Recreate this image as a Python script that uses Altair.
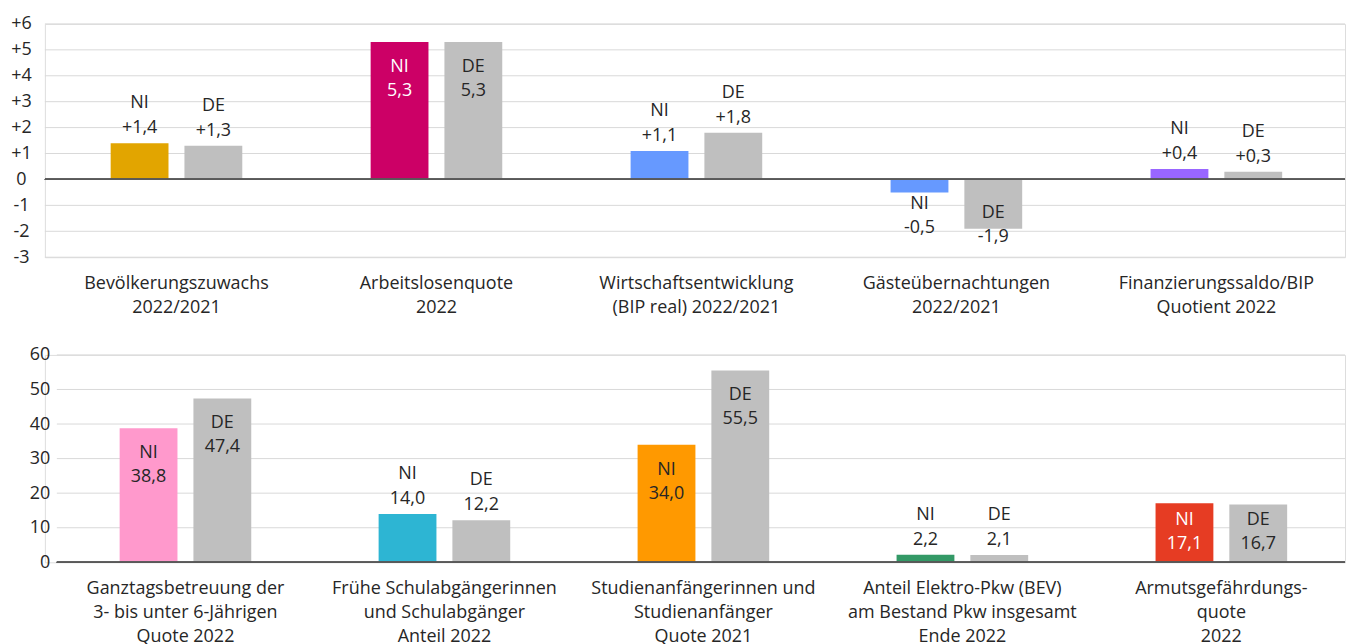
import altair as alt
import pandas as pd

# ---------------- data ----------------
top_categories = [
    "Bevölkerungszuwachs|2022/2021",
    "Arbeitslosenquote|2022",
    "Wirtschaftsentwicklung|(BIP real) 2022/2021",
    "Gästeübernachtungen|2022/2021",
    "Finanzierungssaldo/BIP|Quotient 2022",
]
top_ni = [1.4, 5.3, 1.1, -0.5, 0.4]
top_de = [1.3, 5.3, 1.8, -1.9, 0.3]
top_signed = [True, False, True, True, True]
top_ticks = [-3, -2, -1, 0, 1, 2, 3, 4, 5, 6]
top_ni_colors = ["#E2A500", "#CC0066", "#6699FF", "#6699FF", "#9966FF"]
top_ni_label_colors = ["#262626", "#FFFFFF", "#262626", "#262626", "#262626"]

bottom_categories = [
    "Ganztagsbetreuung der|3- bis unter 6-Jährigen|Quote 2022",
    "Frühe Schulabgängerinnen|und Schulabgänger|Anteil 2022",
    "Studienanfängerinnen und|Studienanfänger|Quote 2021",
    "Anteil Elektro-Pkw (BEV)|am Bestand Pkw insgesamt|Ende 2022",
    "Armutsgefährdungs-|quote|2022",
]
bottom_ni = [38.8, 14.0, 34.0, 2.2, 17.1]
bottom_de = [47.4, 12.2, 55.5, 2.1, 16.7]
bottom_signed = [False, False, False, False, False]
bottom_ticks = [0, 10, 20, 30, 40, 50, 60]
bottom_ni_colors = ["#FF99CC", "#2DB5D3", "#FF9900", "#339966", "#E63C23"]
bottom_ni_label_colors = ["#262626", "#262626", "#262626", "#262626", "#FFFFFF"]

series = ["NI", "DE"]
de_color = "#BFBFBF"
text_color = "#262626"
grid_color = "#D9D9D9"
zero_color = "#595959"
FONT = "Open Sans"
FS = 18

BAR_W = 58
BAR_GAP = 16
W = 1304


def fmt(v, signed):
    s = f"{v:+.1f}" if signed else f"{v:.1f}"
    return s.replace(".", ",")


def build_df(cats, ni, de, signed, ni_cols, ni_lab_cols, inside_thr, px_per_unit):
    rows = []
    for c, a, b, sg, col, lcol in zip(cats, ni, de, signed, ni_cols, ni_lab_cols):
        for s, v in (("NI", a), ("DE", b)):
            if v < 0:
                pos = "below"
                lim = 22.0 / px_per_unit
                anchor = max(v, -lim)
            elif v >= inside_thr:
                pos = "inside"
                lim = 67.0 / px_per_unit
                anchor = max(v, lim)
            else:
                pos = "above"
                anchor = v
            rows.append(
                dict(
                    cat=c,
                    series=s,
                    value=v,
                    anchor=anchor,
                    pos=pos,
                    label=fmt(v, sg),
                    color=col if s == "NI" else de_color,
                    lcolor=(lcol if (s == "NI" and pos == "inside") else text_color),
                )
            )
    return pd.DataFrame(rows)


def panel(df, cats, height, ydom, yvals, ylabel_expr, ylabel_align, ylabel_pad,
          grid0, band0, step, xlab_pad):
    n = len(cats)
    block = 2 * BAR_W + BAR_GAP
    p_inner = 1 - block / step
    xsc = alt.Scale(domain=cats, range=[band0, band0 + n * step],
                    paddingInner=p_inner, paddingOuter=p_inner / 2)
    xax = alt.Axis(
        title=None,
        labelExpr="split(datum.label, '|')",
        labelAngle=0,
        labelFont=FONT,
        labelFontSize=FS,
        labelColor=text_color,
        labelLineHeight=24,
        labelPadding=xlab_pad,
        labelBaseline="top",
        domain=False,
        ticks=False,
        grid=False,
        labelLimit=400,
    )
    ysc = alt.Scale(domain=ydom, nice=False, zero=False)
    yax = alt.Axis(
        title=None,
        values=yvals,
        tickCount=len(yvals) + 2,
        labelExpr=ylabel_expr,
        labelFont=FONT,
        labelFontSize=FS,
        labelColor=text_color,
        labelAlign=ylabel_align,
        labelPadding=ylabel_pad,
        labelBaseline="middle",
        labelOverlap=False,
        labelFlush=False,
        domain=False,
        ticks=False,
        grid=False,
        minExtent=36,
        maxExtent=36,
    )
    xo = alt.XOffset("series:N", scale=alt.Scale(domain=series, paddingInner=BAR_GAP / (BAR_W + BAR_GAP), paddingOuter=0))

    grid = alt.Chart(pd.DataFrame({"tick": yvals})).mark_rule(color=grid_color, strokeWidth=1).encode(
        y=alt.Y("tick:Q", scale=ysc, axis=yax),
        x=alt.value(grid0),
        x2=alt.value(W),
    )

    base = alt.Chart(df)
    bars = base.mark_bar(size=BAR_W).encode(
        x=alt.X("cat:N", scale=xsc, axis=xax, sort=cats),
        xOffset=xo,
        y=alt.Y("value:Q", scale=ysc, axis=yax),
        color=alt.Color("color:N", scale=None),
    )
    zero = base.mark_rule(color=zero_color, strokeWidth=1.3).encode(
        y=alt.datum(0), x=alt.value(grid0), x2=alt.value(W)
    )

    offs = {"above": (-40, -15), "inside": (25, 49), "below": (12, 36)}
    texts = []
    for p, (d1, d2) in offs.items():
        sub = base.transform_filter(alt.datum.pos == p)
        for field, dy in (("series", d1), ("label", d2)):
            t = sub.mark_text(
                font=FONT, fontSize=FS, baseline="middle", align="center", dy=dy
            ).encode(
                x=alt.X("cat:N", scale=xsc, axis=xax, sort=cats),
                xOffset=xo,
                y=alt.Y("anchor:Q", scale=ysc, axis=yax),
                text=alt.Text(f"{field}:N"),
                color=alt.Color("lcolor:N", scale=None),
            )
            texts.append(t)
    return alt.layer(grid, bars, zero, *texts).properties(width=W, height=height)


TOP_H = 234
BOT_H = 208

top_df = build_df(top_categories, top_ni, top_de, top_signed, top_ni_colors, top_ni_label_colors,
                  3.0, TOP_H / 9.0)
bot_df = build_df(bottom_categories, bottom_ni, bottom_de, bottom_signed, bottom_ni_colors,
                  bottom_ni_label_colors, 15.0, BOT_H / 60.0)

top = panel(top_df, top_categories, TOP_H, [-3, 6], top_ticks,
            "datum.value > 0 ? '+' + datum.value : '' + datum.value", "center", 24,
            0, 1.6, 260.75, 17)
bottom = panel(bot_df, bottom_categories, BOT_H, [0, 60], bottom_ticks,
               "'' + datum.value", "right", -5,
               12, 11.1, 259.75, 17)

chart = (
    alt.vconcat(top, bottom, spacing=28)
    .properties(padding={"top": 5, "left": 0, "right": 0, "bottom": 0})
    .configure_view(stroke=None)
    .configure_axisY(labelOverlap=False, labelFlush=False)
    .configure(background="white")
)

chart.save("out.html", embed_options={"renderer": "svg", "actions": False})
